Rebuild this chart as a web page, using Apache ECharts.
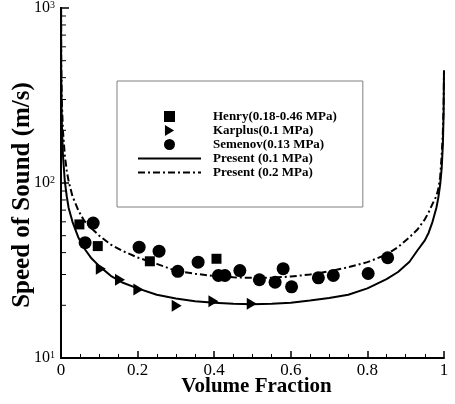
<!DOCTYPE html>
<html>
<head>
<meta charset="utf-8">
<script src="https://cdn.jsdelivr.net/npm/echarts@6/dist/echarts.min.js"></script>
<style>
  html, body { margin: 0; padding: 0; background: #fff; }
  #chart { width: 455px; height: 404px; }
</style>
</head>
<body>
<div id="chart"></div>
<script>
// Measured points
const henryX = [0.048, 0.096, 0.232, 0.406];
const henryY = [58, 43.6, 35.7, 36.9];

const karplusX = [0.104, 0.154, 0.202, 0.302, 0.398, 0.498];
const karplusY = [32.4, 28, 24.6, 19.9, 21.1, 20.4];

const semenovX = [0.063, 0.084, 0.204, 0.256, 0.305, 0.358, 0.411, 0.428, 0.467,
                  0.518, 0.559, 0.58, 0.602, 0.672, 0.711, 0.802, 0.853];
const semenovY = [45.6, 59, 43, 40.8, 31.3, 35.3, 29.6, 29.6, 31.6,
                  28, 27.1, 32.4, 25.5, 28.7, 29.6, 30.4, 37.4];

// Model curves
const curveX = [0, 0.0005, 0.002, 0.005, 0.01, 0.015, 0.02, 0.03, 0.045, 0.06, 0.08, 0.1,
                0.13, 0.16, 0.2, 0.25, 0.3, 0.35, 0.4, 0.45, 0.5, 0.55, 0.6, 0.65, 0.7,
                0.75, 0.8, 0.85, 0.88, 0.91, 0.93, 0.95, 0.96, 0.97, 0.98, 0.985, 0.99,
                0.994, 0.997, 0.999, 1];
const present01 = [1450, 430, 225, 145, 102, 84, 72, 60, 49, 42.5, 37, 33.5,
                   29.5, 27, 25, 23, 21.9, 21.1, 20.7, 20.4, 20.3, 20.4, 20.7, 21.3, 22,
                   23, 25, 28.2, 31, 35.5, 41, 47, 52, 60, 72, 82, 98,
                   122, 165, 250, 440];
const present02 = [1450, 520, 300, 200, 143, 118, 102, 84, 70, 61, 55, 50,
                   44.5, 41, 37.5, 34.5, 31.5, 30.3, 29.4, 28.9, 28.7, 28.8, 29.2, 30, 31.3,
                   33, 35.3, 39, 43, 49, 54, 62, 68, 76, 84, 92, 108,
                   145, 195, 280, 440];

// Axis ticks
const yTickValues = [10, 100, 1000];
const yTickExponents = ['1', '2', '3'];
const yMinorTickValues = [20, 30, 40, 50, 60, 70, 80, 90, 200, 300, 400, 500, 600, 700, 800, 900];

const names = ['Henry(0.18-0.46 MPa)', 'Karplus(0.1 MPa)', 'Semenov(0.13 MPa)',
               'Present (0.1 MPa)', 'Present (0.2 MPa)'];

const FONT = 'Liberation Serif';
const pair = (xs, ys) => xs.map((x, i) => [x, ys[i]]);
const solidBlack = { color: '#000', opacity: 1 };
const hiddenMarker = { color: 'transparent', opacity: 0, borderWidth: 0 };

const chart = echarts.init(document.getElementById('chart'), null, { renderer: 'canvas' });

chart.setOption({
  animation: false,
  backgroundColor: '#fff',
  textStyle: { fontFamily: FONT, color: '#000' },
  grid: { left: 61, right: 11, top: 8, bottom: 46, containLabel: false, outerBoundsMode: 'none' },
  legend: {
    orient: 'vertical',
    left: 117,
    top: 81,
    padding: [29, 26, 28, 20],
    backgroundColor: '#fff',
    borderColor: '#808080',
    borderWidth: 1,
    itemWidth: 63,
    itemHeight: 11,
    itemGap: 1,
    selectedMode: false,
    symbolKeepAspect: true,
    textStyle: {
      fontFamily: FONT, fontWeight: 'bold', fontSize: 13, color: '#000',
      lineHeight: 11, padding: [0, 0, 0, 7]
    },
    data: [
      { name: names[0], icon: 'path://M0,0L10,0L10,10L0,10Z', itemStyle: solidBlack },
      { name: names[1], icon: 'path://M0,0L10,6L0,12Z', itemStyle: solidBlack },
      { name: names[2], icon: 'circle', itemStyle: solidBlack },
      { name: names[3], itemStyle: hiddenMarker },
      { name: names[4], itemStyle: hiddenMarker }
    ]
  },
  xAxis: {
    type: 'value',
    min: 0, max: 1, interval: 0.2,
    name: 'Volume Fraction',
    nameLocation: 'middle',
    nameGap: 18,
    nameMoveOverlap: false,
    nameTextStyle: { fontFamily: FONT, fontWeight: 'bold', fontSize: 21, color: '#000', padding: [0, 0, 0, 8] },
    axisLine: { show: true, onZero: false, lineStyle: { color: '#000', width: 2 } },
    axisTick: { show: true, inside: true, length: 7, lineStyle: { color: '#000', width: 1.5 } },
    minorTick: { show: true, splitNumber: 4, length: 4, lineStyle: { color: '#000', width: 1 } },
    axisLabel: { fontFamily: FONT, fontSize: 17, color: '#000', margin: 4 },
    splitLine: { show: false }
  },
  yAxis: {
    type: 'log',
    logBase: 10,
    min: 10, max: 1000,
    name: 'Speed of Sound (m/s)',
    nameLocation: 'middle',
    nameGap: 26,
    nameMoveOverlap: false,
    nameTextStyle: { fontFamily: FONT, fontWeight: 'bold', fontSize: 25, color: '#000', padding: [0, 24, 0, 0] },
    axisLine: { show: true, lineStyle: { color: '#000', width: 2 } },
    axisTick: { show: true, inside: true, length: 8, lineStyle: { color: '#000', width: 1.5 } },
    axisLabel: {
      margin: 6,
      formatter: function (v) {
        const i = yTickValues.findIndex(t => Math.abs(t - v) / t < 1e-6);
        return i < 0 ? '' : '{b|10}{s|' + yTickExponents[i] + '}';
      },
      rich: {
        b: { fontFamily: FONT, fontSize: 16, color: '#000', lineHeight: 16 },
        s: { fontFamily: FONT, fontSize: 10, color: '#000', lineHeight: 10, verticalAlign: 'top' }
      }
    },
    splitLine: { show: false }
  },
  series: [
    {
      name: names[0], type: 'scatter', symbol: 'rect', symbolSize: 10,
      itemStyle: solidBlack, data: pair(henryX, henryY), z: 5
    },
    {
      name: names[1], type: 'scatter', symbol: 'triangle', symbolSize: [12, 10], symbolRotate: -90,
      itemStyle: solidBlack, data: pair(karplusX, karplusY), z: 5
    },
    {
      name: names[2], type: 'scatter', symbol: 'circle', symbolSize: 13,
      itemStyle: solidBlack, data: pair(semenovX, semenovY), z: 5
    },
    {
      name: names[3], type: 'line', symbol: 'none', showSymbol: false, smooth: false,
      lineStyle: { color: '#000', width: 2 }, itemStyle: { color: '#000' },
      data: pair(curveX, present01), z: 4
    },
    {
      name: names[4], type: 'line', symbol: 'none', showSymbol: false, smooth: false,
      lineStyle: { color: '#000', width: 2, type: [7, 3, 2, 3] }, itemStyle: { color: '#000' },
      data: pair(curveX, present02), z: 4
    },
    {
      // minor ticks of the logarithmic axis at 2..9 of each decade
      type: 'custom', silent: true, z: 6,
      data: yMinorTickValues.map(v => [0, v]),
      renderItem: function (params, api) {
        const p = api.coord([0, api.value(1)]);
        return {
          type: 'line',
          shape: { x1: p[0], y1: p[1], x2: p[0] + 5, y2: p[1] },
          style: { stroke: '#000', lineWidth: 1 }
        };
      }
    }
  ]
});
</script>
</body>
</html>
